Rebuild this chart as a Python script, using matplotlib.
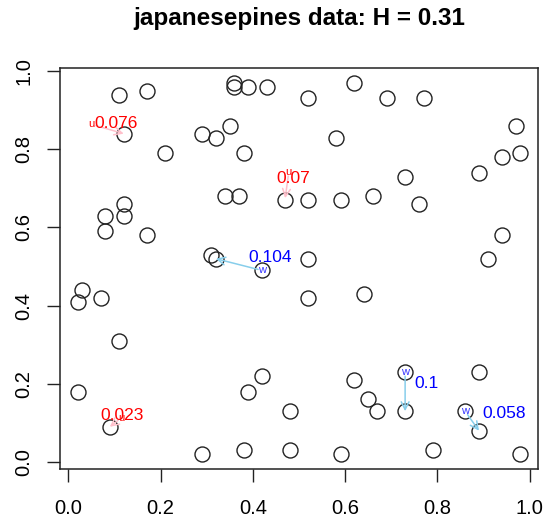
import matplotlib
matplotlib.use("Agg")
import matplotlib.pyplot as plt

plt.rcParams['font.family'] = ['Liberation Sans', 'DejaVu Sans']

# japanesepines point pattern (unit square)
pts_x = [0.11, 0.17, 0.36, 0.36, 0.39, 0.43, 0.52, 0.62, 0.69, 0.77,
         0.97, 0.12, 0.21, 0.29, 0.32, 0.35, 0.38, 0.58, 0.94, 0.98,
         0.89, 0.73, 0.34, 0.37, 0.47, 0.52, 0.59, 0.66, 0.76, 0.12,
         0.08, 0.12, 0.08, 0.17, 0.31, 0.32, 0.42, 0.52, 0.94, 0.91,
         0.03, 0.02, 0.07, 0.52, 0.64, 0.11, 0.02, 0.42, 0.39, 0.62,
         0.73, 0.89, 0.65, 0.67, 0.73, 0.86, 0.48, 0.09, 0.89, 0.29,
         0.38, 0.48, 0.59, 0.79, 0.98]
pts_y = [0.94, 0.95, 0.97, 0.96, 0.96, 0.96, 0.93, 0.97, 0.93, 0.93,
         0.86, 0.84, 0.79, 0.84, 0.83, 0.86, 0.79, 0.83, 0.78, 0.79,
         0.74, 0.73, 0.68, 0.68, 0.67, 0.67, 0.67, 0.68, 0.66, 0.66,
         0.63, 0.63, 0.59, 0.58, 0.53, 0.52, 0.49, 0.52, 0.58, 0.52,
         0.44, 0.41, 0.42, 0.42, 0.43, 0.31, 0.18, 0.22, 0.18, 0.21,
         0.23, 0.23, 0.16, 0.13, 0.13, 0.13, 0.13, 0.09, 0.08, 0.02,
         0.03, 0.03, 0.02, 0.03, 0.02]

# "u" moves (red, start off-pattern) and "w" moves (blue, start on a point)
u_from = [(0.05, 0.864), (0.478, 0.742), (0.115, 0.113)]
u_to = [(0.12, 0.84), (0.47, 0.675), (0.09, 0.09)]
u_vals = ["0.076", "0.07", "0.023"]
u_lab = [(0.104, 0.867), (0.488, 0.724), (0.117, 0.118)]

w_from = [(0.42, 0.49), (0.73, 0.23), (0.86, 0.13)]
w_to = [(0.32, 0.52), (0.73, 0.13), (0.89, 0.08)]
w_vals = ["0.104", "0.1", "0.058"]
w_lab = [(0.437, 0.524), (0.776, 0.20), (0.945, 0.123)]

H = 0.31

fig = plt.figure(figsize=(5.44, 5.2), dpi=100)
ax = fig.add_axes([60/544, 51/520, 478/544, 401/520])

ax.plot(pts_x, pts_y, 'o', ms=10.8, mfc='none', mec='#222222', mew=1.0)

arr = '->, head_length=0.55, head_width=0.28'
for (x0, y0), (x1, y1), v, (lx, ly) in zip(u_from, u_to, u_vals, u_lab):
    ax.annotate('', xy=(x1, y1), xytext=(x0, y0),
                arrowprops=dict(arrowstyle=arr, color='pink', lw=1.1,
                                shrinkA=3, shrinkB=0))
    ax.text(x0, y0, 'u', color='red', fontsize=8, ha='center', va='center')
    ax.text(lx, ly, v, color='red', fontsize=12.5, ha='center', va='center')

for (x0, y0), (x1, y1), v, (lx, ly) in zip(w_from, w_to, w_vals, w_lab):
    ax.annotate('', xy=(x1, y1), xytext=(x0, y0),
                arrowprops=dict(arrowstyle=arr, color='skyblue', lw=1.1,
                                shrinkA=3, shrinkB=0))
    ax.text(x0, y0, 'w', color='#3333ff', fontsize=8, ha='center', va='center')
    ax.text(lx, ly, v, color='blue', fontsize=12.5, ha='center', va='center')

ax.set_xlim(-0.018, 1.018)
ax.set_ylim(-0.018, 1.008)
ticks = [0.0, 0.2, 0.4, 0.6, 0.8, 1.0]
ax.set_xticks(ticks)
ax.set_yticks(ticks)
ax.set_xticklabels([f"{t:.1f}" for t in ticks])
ax.set_yticklabels([f"{t:.1f}" for t in ticks], rotation=90, va='center')
ax.tick_params(direction='out', length=9.4, width=1, labelsize=14.5, color='#222222')
ax.tick_params(axis='x', pad=12)
ax.tick_params(axis='y', pad=10)
for s in ax.spines.values():
    s.set_linewidth(1.1)
    s.set_color('#222222')

fig.text(299/544, 1 - 25/520, f"japanesepines data: H = {H}", ha='center',
         va='baseline', fontsize=17.5, fontweight='bold')

fig.savefig('out.png', dpi=100)
